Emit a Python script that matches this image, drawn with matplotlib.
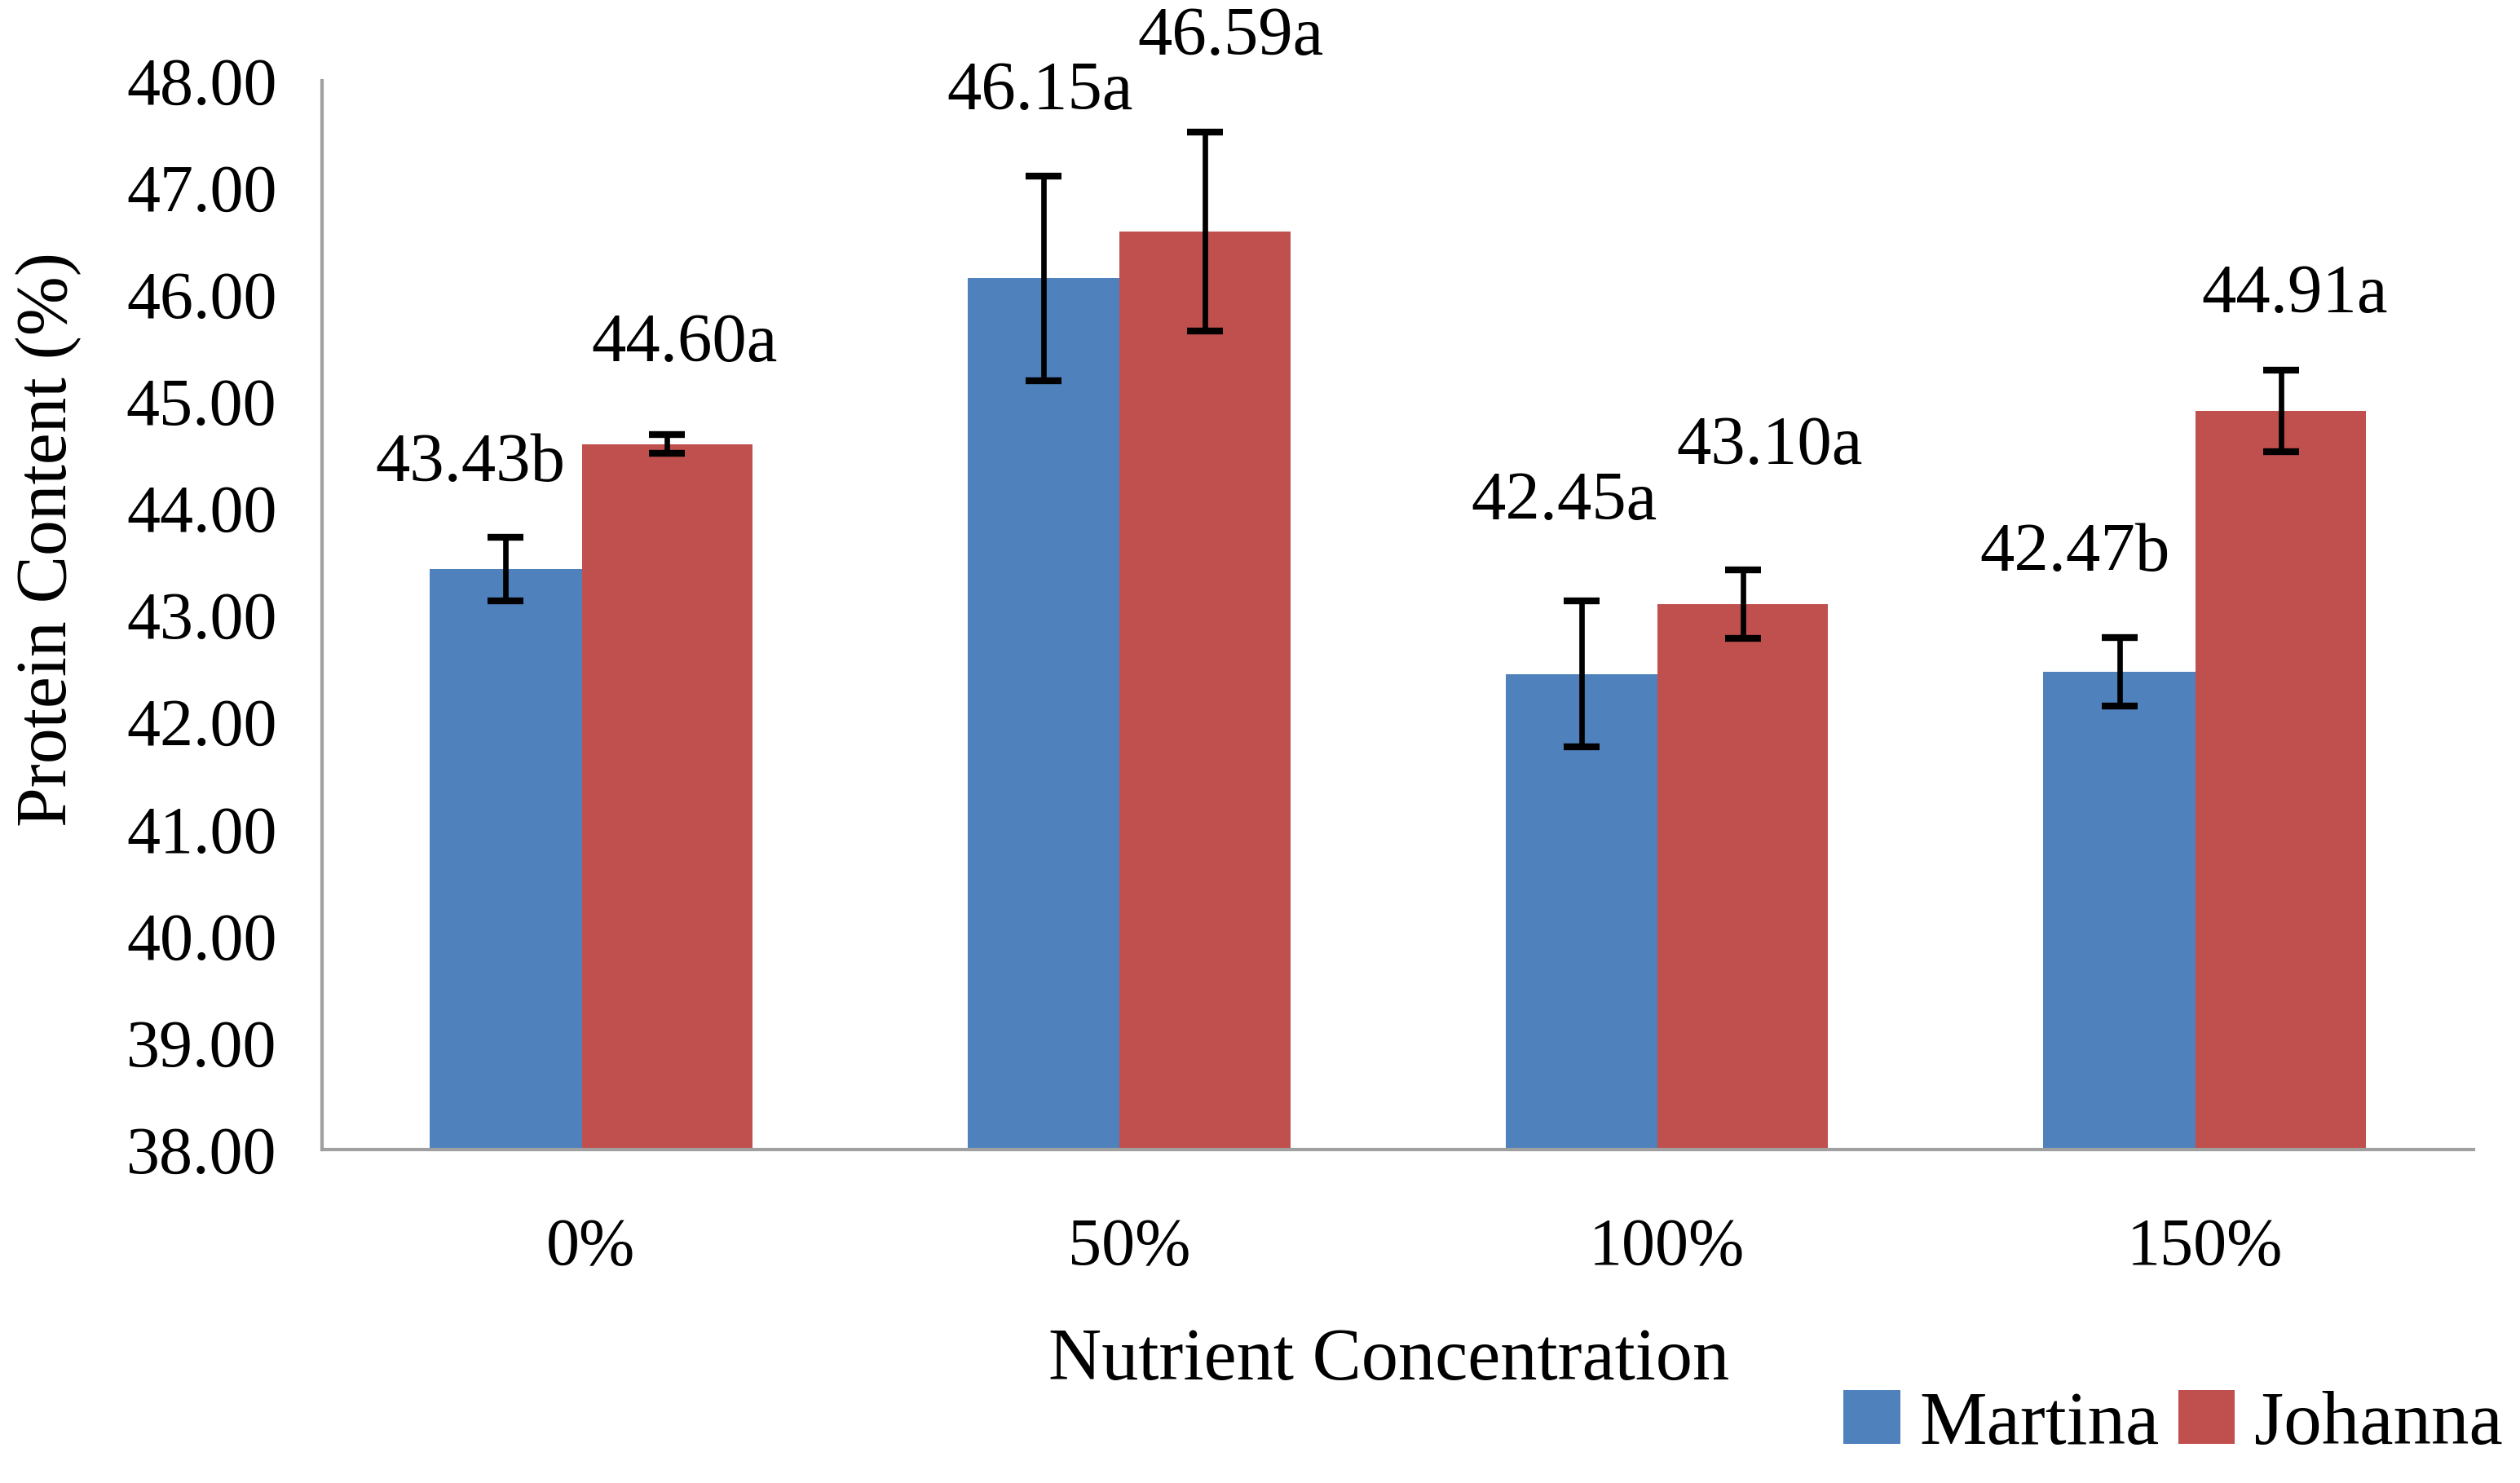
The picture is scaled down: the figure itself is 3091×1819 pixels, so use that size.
import numpy as np
import matplotlib
matplotlib.use("Agg")
import matplotlib.pyplot as plt

plt.rcParams['font.family'] = ['Liberation Serif', 'DejaVu Serif']

# data
categories = ['0%', '50%', '100%', '150%']
martina = [43.43, 46.15, 42.45, 42.47]
johanna = [44.60, 46.59, 43.10, 44.91]
martina_err = [0.30, 0.96, 0.68, 0.32]
johanna_err = [0.09, 0.93, 0.32, 0.38]
martina_lbl = ['43.43b', '46.15a', '42.45a', '42.47b']
johanna_lbl = ['44.60a', '46.59a', '43.10a', '44.91a']

# manual label placement (offset from bar centre / top of error bar)
martina_off = [(-0.066, 0.68), (-0.007, 0.78), (-0.033, 0.92), (-0.083, 0.78)]
johanna_off = [(0.032, 0.84), (0.047, 0.88), (0.049, 1.15), (0.026, 0.70)]

blue = '#4F81BD'
red = '#C0504D'

fig = plt.figure(figsize=(15.455, 9.095), dpi=200)
ax = fig.add_axes([0.1278, 0.2249, 0.8538, 0.7207])

x = np.arange(len(categories))
wm, wj = 0.283, 0.317
xm = x - 0.30 + wm / 2
xj = x - 0.017 + wj / 2

ax.bar(xm, [v - 38 for v in martina], bottom=38, width=wm, color=blue, label='Martina')
ax.bar(xj, [v - 38 for v in johanna], bottom=38, width=wj, color=red, label='Johanna')

ax.errorbar(xm, martina, yerr=martina_err, fmt='none', ecolor='black',
            elinewidth=2.4, capsize=8, capthick=3)
ax.errorbar(xj, johanna, yerr=johanna_err, fmt='none', ecolor='black',
            elinewidth=2.4, capsize=8, capthick=3)

for i in range(len(categories)):
    dx, dy = martina_off[i]
    ax.text(xm[i] + dx, martina[i] + martina_err[i] + dy, martina_lbl[i],
            ha='center', va='center', fontsize=30.5, clip_on=False)
    dx, dy = johanna_off[i]
    ax.text(xj[i] + dx, johanna[i] + johanna_err[i] + dy, johanna_lbl[i],
            ha='center', va='center', fontsize=30.5, clip_on=False)

ax.set_xlim(-0.5, 3.5)
ax.set_ylim(38, 48)
ax.set_yticks(np.arange(38, 48.01, 1))
ax.set_yticklabels(['%.2f' % v for v in np.arange(38, 48.01, 1)])
ax.set_xticks(x)
ax.set_xticklabels(categories)
ax.tick_params(axis='both', length=0, labelsize=29.5)
ax.tick_params(axis='y', pad=20)
ax.tick_params(axis='x', pad=30)

for s in ['top', 'right']:
    ax.spines[s].set_visible(False)
for s in ['left', 'bottom']:
    ax.spines[s].set_color('#A0A0A0')
    ax.spines[s].set_linewidth(1.5)

ax.set_xlabel('Nutrient Concentration', fontsize=32.5, va='center')
ax.xaxis.set_label_coords(0.4957, -0.198)
ax.set_ylabel('Protein Content (%)', fontsize=31.5, va='center', ha='center')
ax.yaxis.set_label_coords(-0.1273, 0.5706)

fig.legend(loc='center right', bbox_to_anchor=(0.993, 0.039), ncol=2, frameon=False,
           fontsize=33.5, handlelength=0.75, handleheight=0.7, handletextpad=0.25,
           columnspacing=0.25, borderpad=0, borderaxespad=0)

fig.savefig('out.png', dpi=200)
